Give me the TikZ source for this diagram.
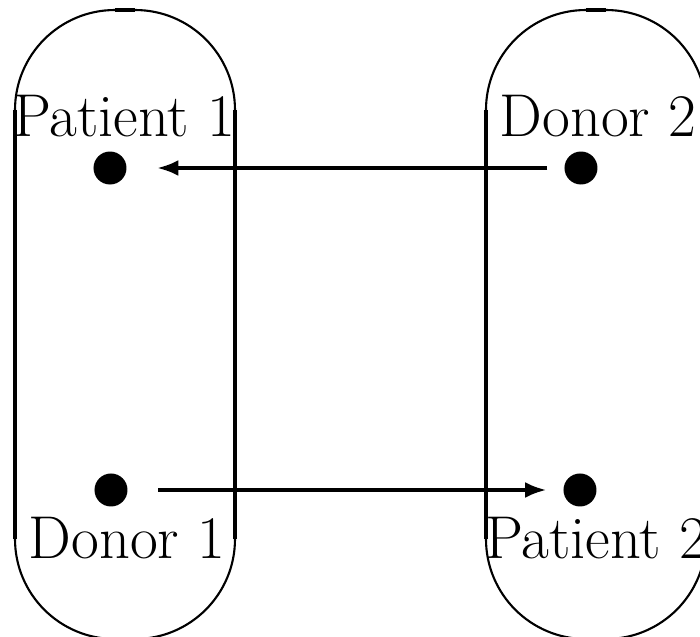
\documentclass[tikz,border=0pt]{standalone}
\usetikzlibrary{arrows.meta}
\tikzset{
    seite/.style={line width=1pt},
    bogen/.style={line width=0.6pt},
    punkt/.style={circle, fill, inner sep=0pt, minimum size=0.33cm},
    pfeil/.style={line width=1pt, -{Latex[length=6pt,width=4.5pt]}},
    beschrift/.style={anchor=base, inner sep=0pt, font=\fontsize{17.2}{20}\selectfont}
}

\begin{document}
\begin{tikzpicture}

\useasboundingbox (0,0) rectangle (7,6.37);

% linke Kapsel (Paar 1)
\draw[seite] (0.15,0.98) -- (0.15,5.27);
\draw[seite] (2.35,0.98) -- (2.35,5.27);
\draw[bogen] (0.15,5.27) arc (180:90:1);
\draw[seite] (1.15,6.27) -- (1.35,6.27);
\draw[bogen] (1.35,6.27) arc (90:0:1);
\draw[bogen] (0.15,0.98) arc (180:270:1) -- (1.35,-0.02) arc (270:360:1);

% rechte Kapsel (Paar 2)
\draw[seite] (4.86,0.98) -- (4.86,5.27);
\draw[seite] (7.06,0.98) -- (7.06,5.27);
\draw[bogen] (4.86,5.27) arc (180:90:1);
\draw[seite] (5.86,6.27) -- (6.06,6.27);
\draw[bogen] (6.06,6.27) arc (90:0:1);
\draw[bogen] (4.86,0.98) arc (180:270:1) -- (6.06,-0.02) arc (270:360:1);

% Punkte
\node[punkt] (P1) at (1.10,4.69) {};
\node[punkt] (D1) at (1.11,1.47) {};
\node[punkt] (D2) at (5.81,4.69) {};
\node[punkt] (P2) at (5.80,1.47) {};

% Beschriftung
\node[beschrift] (lP1) at (1.24,5.01) {Patient 1};
\node[beschrift] (lD1) at (1.27,0.78) {Donor 1};
\node[beschrift] (lD2) at (5.98,5.01) {Donor 2};
\node[beschrift] (lP2) at (5.96,0.78) {Patient 2};

% Spenden ueber Kreuz
\draw[pfeil, shorten <=0.165cm, shorten >=0.30cm] (D2) -- (P1);
\draw[pfeil, shorten <=0.30cm, shorten >=0.165cm] (D1) -- (P2);

\end{tikzpicture}
\end{document}
